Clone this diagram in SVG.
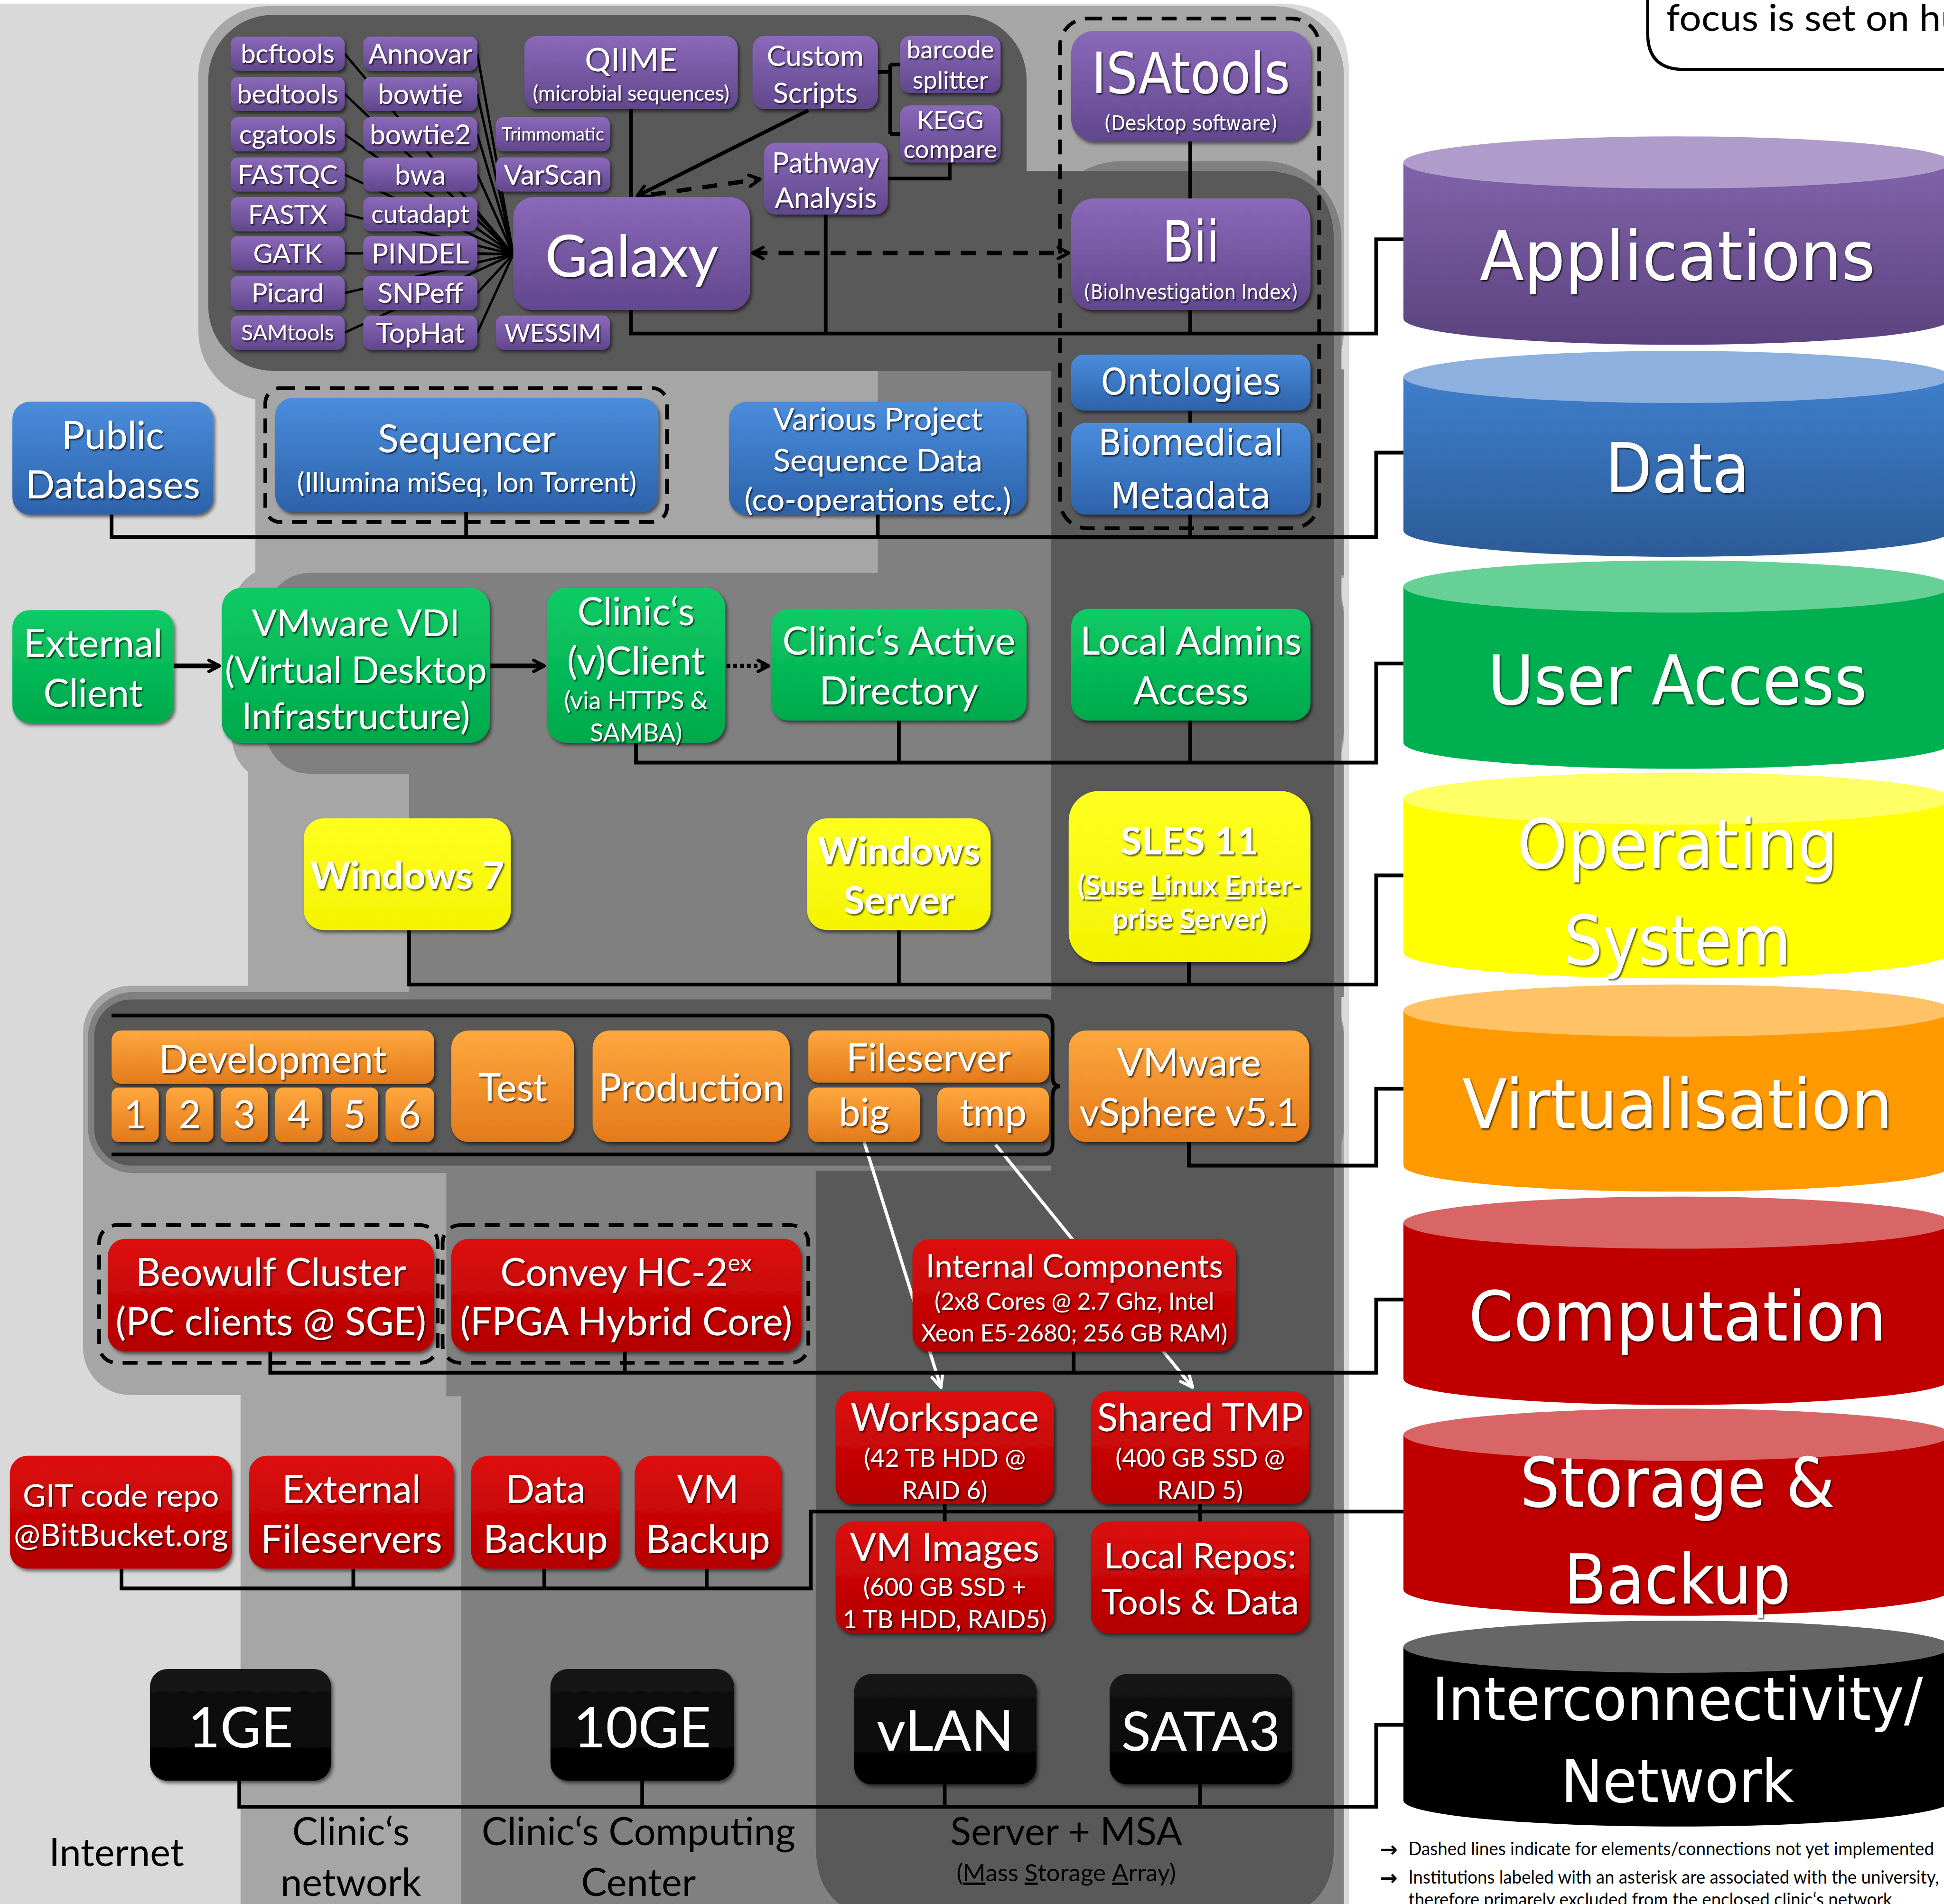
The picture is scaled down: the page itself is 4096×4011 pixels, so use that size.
<svg xmlns="http://www.w3.org/2000/svg" width="4096" height="4011" viewBox="0 0 4096 4011">
<defs>
<linearGradient id="gPu" x1="0" y1="0" x2="0" y2="1"><stop offset="0" stop-color="#8b69ba"/><stop offset="1" stop-color="#61478c"/></linearGradient>
<linearGradient id="gBl" x1="0" y1="0" x2="0" y2="1"><stop offset="0" stop-color="#4a8ddc"/><stop offset="1" stop-color="#2d62ab"/></linearGradient>
<linearGradient id="gGr" x1="0" y1="0" x2="0" y2="1"><stop offset="0" stop-color="#0ccb65"/><stop offset="1" stop-color="#00a94b"/></linearGradient>
<linearGradient id="gYe" x1="0" y1="0" x2="0" y2="1"><stop offset="0" stop-color="#ffff20"/><stop offset="1" stop-color="#f4f400"/></linearGradient>
<linearGradient id="gOr" x1="0" y1="0" x2="0" y2="1"><stop offset="0" stop-color="#ffa83e"/><stop offset="1" stop-color="#e37a1b"/></linearGradient>
<linearGradient id="gRe" x1="0" y1="0" x2="0" y2="1"><stop offset="0" stop-color="#de0d0d"/><stop offset="1" stop-color="#b30000"/></linearGradient>
<linearGradient id="gBk" x1="0" y1="0" x2="0" y2="1"><stop offset="0" stop-color="#161616"/><stop offset="1" stop-color="#000"/></linearGradient>
<linearGradient id="cPu" x1="0" y1="0" x2="0" y2="1"><stop offset="0" stop-color="#8163aa"/><stop offset="1" stop-color="#5b437f"/></linearGradient>
<linearGradient id="cBl" x1="0" y1="0" x2="0" y2="1"><stop offset="0" stop-color="#3f7fcc"/><stop offset="1" stop-color="#2c5b97"/></linearGradient>
<filter id="sh" x="-10%" y="-10%" width="125%" height="135%"><feDropShadow dx="1.5" dy="2" stdDeviation="1.5" flood-color="#000" flood-opacity="0.55"/></filter>
<filter id="ts" x="-5%" y="-10%" width="115%" height="130%"><feDropShadow dx="1" dy="1.2" stdDeviation="0.6" flood-color="#000" flood-opacity="0.65"/></filter>
<marker id="ch" viewBox="0 0 12 12" refX="10.5" refY="6" markerWidth="12" markerHeight="12" markerUnits="userSpaceOnUse" orient="auto-start-reverse"><path d="M2,1.5 L10.5,6 L2,10.5" fill="none" stroke="#000" stroke-width="2.6" stroke-linecap="round" stroke-linejoin="round"/></marker>
<marker id="wa" viewBox="0 0 12 12" refX="11" refY="6" markerWidth="12" markerHeight="12" markerUnits="userSpaceOnUse" orient="auto"><path d="M1,1.5 L11,6 L1,10.5" fill="none" stroke="#fff" stroke-width="2.4" stroke-linecap="round"/></marker>
</defs>
<style>
.pu{fill:url(#gPu);filter:url(#sh)}
.bl{fill:url(#gBl);filter:url(#sh)}
.gr{fill:url(#gGr);filter:url(#sh)}
.ye{fill:url(#gYe);filter:url(#sh)}
.or{fill:url(#gOr);filter:url(#sh)}
.re{fill:url(#gRe);filter:url(#sh)}
.bk{fill:url(#gBk);filter:url(#sh)}
.t{font-family:Lato,"Liberation Sans",sans-serif;fill:#fff;text-anchor:middle;filter:url(#ts)}
.b{font-weight:700}
.d{font-family:"DejaVu Sans",Verdana,sans-serif;font-stretch:condensed;fill:#fff;text-anchor:middle;filter:url(#ts)}
.k{font-family:Lato,"Liberation Sans",sans-serif;fill:#000;text-anchor:middle}
.bus{fill:none;stroke:#000;stroke-width:3}
.tl{fill:none;stroke:#000;stroke-width:1.9}
.dsh{fill:none;stroke:#000;stroke-width:3.5;stroke-dasharray:12 9}
.arr{fill:none;stroke:#000;stroke-width:3.8}
.dot{fill:none;stroke:#000;stroke-width:3.5;stroke-dasharray:3 2.5}
.wl{fill:none;stroke:#fff;stroke-width:2.6}
</style>
<rect width="4096" height="4011" fill="#fff"/>
<g transform="scale(2.61224)">
<g id="background">
<path fill="#d9d9d9" d="M0,3 H1033 Q1088,3 1088,58 V1536 H0 Z"/>
<g fill="#a6a6a6">
<rect x="160" y="5" width="924" height="318" rx="56"/>
<rect x="206" y="298" width="878" height="168"/>
<rect x="187" y="456" width="897" height="176" rx="38"/>
<rect x="200" y="620" width="884" height="182"/>
<rect x="67" y="795" width="1017" height="330" rx="38"/>
<rect x="194" y="1100" width="890" height="436"/>
</g>
<g fill="#808080">
<rect x="842" y="130" width="240" height="1420" rx="62"/>
<rect x="708" y="298" width="376" height="166"/>
<rect x="214" y="462" width="870" height="162" rx="36"/>
<rect x="330" y="614" width="754" height="190"/>
<rect x="71" y="800" width="1013" height="146" rx="36"/>
<rect x="360" y="940" width="724" height="186"/>
<rect x="372" y="1120" width="712" height="416"/>
</g>
<g fill="#595959">
<rect x="168" y="12" width="660" height="287" rx="52"/>
<rect x="780" y="138" width="250" height="161"/>
<path d="M848,138 H1018 Q1076,138 1076,196 V1488 Q1076,1546 1018,1546 H716 Q658,1546 658,1488 V944 H848 Z"/>
<rect x="76" y="806" width="800" height="134" rx="30"/>
</g>
</g>
<g id="connectors">
<path class="tl" d="M278,43.3L414,205M278,75.8L414,205M278,108.3L414,205M278,140.8L414,205M278,172.8L414,205M278,204.3L414,205M278,236.3L414,205M278,268.3L414,205M385,43.3L414,205M385,75.8L414,205M385,108.3L414,205M385,140.8L414,205M385,172.8L414,205M385,204.3L414,205M385,236.3L414,205M385,268.3L414,205"/>
<path class="bus" d="M509,250V269H1110V193H1132 M666,173V269 M960,250V269 M960,114V160 M509,88V159"/>
<path class="bus" d="M708,58H718 M718,52V108 M718,52H726 M718,108H726 M766,131V144H716"/>
<path class="bus" d="M652,89L514,158" marker-end="url(#ch)"/>
<path class="dsh" d="M525,157L613,144.5" marker-end="url(#ch)"/>
<path class="dsh" d="M607,204H862" marker-start="url(#ch)" marker-end="url(#ch)"/>
<path class="bus" d="M90,415V433H1110V365H1132 M376,413V433 M708,415V433 M960,415V433 M960,331V341"/>
<path class="bus" d="M513,599V615H1110V535H1132 M725,581V615 M960,581V615"/>
<path class="arr" d="M140,537H177" marker-end="url(#ch)"/>
<path class="arr" d="M395,537H439" marker-end="url(#ch)"/>
<path class="dot" d="M586,537H620" marker-end="url(#ch)"/>
<path class="bus" d="M330,750V794H1110V706H1132 M725,750V794 M959,776V794"/>
<path class="bus" d="M959,921V940H1110V878H1132"/>
<path class="wl" d="M697,921L759,1119" marker-end="url(#wa)"/>
<path class="wl" d="M803,923L962,1119" marker-end="url(#wa)"/>
<path class="bus" d="M218,1090V1107H1110V1048H1132 M504,1090V1107 M866,1090V1107"/>
<path class="bus" d="M98,1265V1281H654V1219H1132 M285,1265V1281 M439,1265V1281 M570,1265V1281 M762,1213V1227 M968,1213V1227"/>
<path class="bus" d="M193,1436V1457H1110V1391H1132 M518,1436V1457 M762,1439V1457 M968,1439V1457"/>
</g>
<g id="groups" fill="none" stroke="#000" stroke-width="3">
<g stroke-dasharray="12 8">
<rect x="855" y="15" width="209" height="411" rx="22"/>
<rect x="214" y="313" width="324" height="108" rx="12"/>
<rect x="80" y="988" width="273" height="111" rx="14"/>
<rect x="357" y="988" width="295" height="111" rx="14"/>
</g>
<path d="M90,819H841Q849,819 849,827V868Q849,876 855,876Q849,876 849,884V923Q849,931 841,931H90"/>
</g>
<g id="nodes">
<g id="n-bcftools"><rect class="pu" x="186" y="29.5" width="92" height="27.5" rx="6"/><text class="t" x="232" y="51" font-size="21.5">bcftools</text></g>
<g id="n-bedtools"><rect class="pu" x="186" y="62" width="92" height="27.5" rx="6"/><text class="t" x="232" y="83.5" font-size="21.5">bedtools</text></g>
<g id="n-cgatools"><rect class="pu" x="186" y="94.5" width="92" height="27.5" rx="6"/><text class="t" x="232" y="116" font-size="21.5">cgatools</text></g>
<g id="n-fastqc"><rect class="pu" x="186" y="127" width="92" height="27.5" rx="6"/><text class="t" x="232" y="148.5" font-size="21.5">FASTQC</text></g>
<g id="n-fastx"><rect class="pu" x="186" y="159" width="92" height="27.5" rx="6"/><text class="t" x="232" y="180.5" font-size="21.5">FASTX</text></g>
<g id="n-gatk"><rect class="pu" x="186" y="190.5" width="92" height="27.5" rx="6"/><text class="t" x="232" y="212" font-size="21.5">GATK</text></g>
<g id="n-picard"><rect class="pu" x="186" y="222.5" width="92" height="27.5" rx="6"/><text class="t" x="232" y="244" font-size="21.5">Picard</text></g>
<g id="n-samtools"><rect class="pu" x="186" y="254.5" width="92" height="27.5" rx="6"/><text class="t" x="232" y="274.5" font-size="17.5">SAMtools</text></g>
<g id="n-annovar"><rect class="pu" x="293" y="29.5" width="92" height="27.5" rx="6"/><text class="t" x="339" y="51.4" font-size="22.5">Annovar</text></g>
<g id="n-bowtie"><rect class="pu" x="293" y="62" width="92" height="27.5" rx="6"/><text class="t" x="339" y="83.9" font-size="22.5">bowtie</text></g>
<g id="n-bowtie2"><rect class="pu" x="293" y="94.5" width="92" height="27.5" rx="6"/><text class="t" x="339" y="116.4" font-size="22.5">bowtie2</text></g>
<g id="n-bwa"><rect class="pu" x="293" y="127" width="92" height="27.5" rx="6"/><text class="t" x="339" y="148.9" font-size="22.5">bwa</text></g>
<g id="n-cutadapt"><rect class="pu" x="293" y="159" width="92" height="27.5" rx="6"/><text class="t" x="339" y="180.1" font-size="20.5">cutadapt</text></g>
<g id="n-pindel"><rect class="pu" x="293" y="190.5" width="92" height="27.5" rx="6"/><text class="t" x="339" y="212.4" font-size="22.5">PINDEL</text></g>
<g id="n-snpeff"><rect class="pu" x="293" y="222.5" width="92" height="27.5" rx="6"/><text class="t" x="339" y="244.4" font-size="22.5">SNPeff</text></g>
<g id="n-tophat"><rect class="pu" x="293" y="254.5" width="92" height="27.5" rx="6"/><text class="t" x="339" y="276.4" font-size="22.5">TopHat</text></g>
<g id="n-trimmomatic"><rect class="pu" x="400" y="94.5" width="92" height="27.5" rx="6"/><text class="t" x="446" y="113.5" font-size="14.5">Trimmomatic</text></g>
<g id="n-varscan"><rect class="pu" x="400" y="127" width="92" height="27.5" rx="6"/><text class="t" x="446" y="148.9" font-size="22.5">VarScan</text></g>
<g id="n-wessim"><rect class="pu" x="400" y="254.5" width="92" height="27.5" rx="6"/><text class="t" x="446" y="275.5" font-size="20">WESSIM</text></g>
<g id="n-qiime"><rect class="pu" x="423" y="29" width="172" height="59" rx="10"/><text class="t" x="509" y="57.4" font-size="26">QIIME</text><text class="t" x="509" y="81" font-size="17">(microbial sequences)</text></g>
<g id="n-custom"><rect class="pu" x="607" y="29" width="101" height="59" rx="10"/><text class="t" x="657.5" y="53.3" font-size="23">Custom</text><text class="t" x="657.5" y="83" font-size="23">Scripts</text></g>
<g id="n-barcode"><rect class="pu" x="726" y="29" width="81" height="46" rx="8"/><text class="t" x="766.5" y="47.2" font-size="20">barcode</text><text class="t" x="766.5" y="71.5" font-size="20">splitter</text></g>
<g id="n-kegg"><rect class="pu" x="726" y="85" width="81" height="46" rx="8"/><text class="t" x="766.5" y="104.2" font-size="20">KEGG</text><text class="t" x="766.5" y="127.5" font-size="20">compare</text></g>
<g id="n-pathway"><rect class="pu" x="616" y="115" width="100" height="58" rx="10"/><text class="t" x="666" y="139.3" font-size="23">Pathway</text><text class="t" x="666" y="167.5" font-size="23">Analysis</text></g>
<g id="n-galaxy"><rect class="pu" x="414" y="159" width="191" height="91" rx="16"/><text class="t" x="509.5" y="223" font-size="47">Galaxy</text></g>
<g id="n-isatools"><rect class="pu" x="864" y="25" width="193" height="89" rx="18"/><text class="d" x="960.5" y="75" font-size="46" textLength="160" lengthAdjust="spacingAndGlyphs">ISAtools</text><text class="d" x="960.5" y="105" font-size="16" textLength="140" lengthAdjust="spacingAndGlyphs">(Desktop software)</text></g>
<g id="n-bii"><rect class="pu" x="864" y="160" width="193" height="90" rx="18"/><text class="d" x="960.5" y="211" font-size="46" textLength="46" lengthAdjust="spacingAndGlyphs">Bii</text><text class="d" x="960.5" y="241" font-size="16" textLength="173" lengthAdjust="spacingAndGlyphs">(BioInvestigation Index)</text></g>
<g id="n-ontologies"><rect class="bl" x="864" y="286" width="193" height="45" rx="10"/><text class="d" x="960.5" y="318" font-size="29" textLength="145" lengthAdjust="spacingAndGlyphs">Ontologies</text></g>
<g id="n-biomedical"><rect class="bl" x="864" y="341" width="193" height="74" rx="12"/><text class="d" x="960.5" y="367" font-size="29" textLength="149" lengthAdjust="spacingAndGlyphs">Biomedical</text><text class="d" x="960.5" y="410" font-size="29" textLength="129" lengthAdjust="spacingAndGlyphs">Metadata</text></g>
<g id="n-public"><rect class="bl" x="10" y="324" width="162" height="91" rx="14"/><text class="t" x="91" y="362" font-size="31">Public</text><text class="t" x="91" y="402" font-size="31">Databases</text></g>
<g id="n-sequencer"><rect class="bl" x="222" y="321" width="309" height="92" rx="14"/><text class="t" x="376.5" y="365" font-size="31">Sequencer</text><text class="t" x="376.5" y="397" font-size="22.5">(Illumina miSeq, Ion Torrent)</text></g>
<g id="n-various"><rect class="bl" x="588" y="324" width="240" height="91" rx="14"/><text class="t" x="708" y="347" font-size="25.5">Various Project</text><text class="t" x="708" y="380" font-size="25.5">Sequence Data</text><text class="t" x="708" y="412" font-size="25.5">(co-operations etc.)</text></g>
<g id="n-external-client"><rect class="gr" x="10" y="492" width="130" height="91" rx="14"/><text class="t" x="75" y="530" font-size="31">External</text><text class="t" x="75" y="570" font-size="31">Client</text></g>
<g id="n-vdi"><rect class="gr" x="179" y="474" width="216" height="125" rx="16"/><text class="t" x="287" y="513" font-size="29.5">VMware VDI</text><text class="t" x="287" y="551" font-size="29.5">(Virtual Desktop</text><text class="t" x="287" y="588" font-size="29.5">Infrastructure)</text></g>
<g id="n-vclient"><rect class="gr" x="441" y="474" width="144" height="125" rx="16"/><text class="t" x="513" y="504" font-size="31">Clinic‘s</text><text class="t" x="513" y="544" font-size="31">(v)Client</text><text class="t" x="513" y="572" font-size="20">(via HTTPS &amp;</text><text class="t" x="513" y="598" font-size="20">SAMBA)</text></g>
<g id="n-ad"><rect class="gr" x="622" y="491" width="206" height="90" rx="14"/><text class="t" x="725" y="528" font-size="31">Clinic‘s Active</text><text class="t" x="725" y="568" font-size="31">Directory</text></g>
<g id="n-admins"><rect class="gr" x="864" y="491" width="193" height="90" rx="14"/><text class="t" x="960.5" y="528" font-size="31">Local Admins</text><text class="t" x="960.5" y="568" font-size="31">Access</text></g>
<g id="n-win7"><rect class="ye" x="245" y="660" width="167" height="90" rx="16"/><text class="t b" x="328.5" y="717" font-size="31">Windows 7</text></g>
<g id="n-winserver"><rect class="ye" x="651" y="660" width="148" height="90" rx="16"/><text class="t b" x="725" y="697" font-size="31">Windows</text><text class="t b" x="725" y="737" font-size="31">Server</text></g>
<g id="n-sles"><rect class="ye" x="862" y="638" width="195" height="138" rx="24"/><text class="t b" x="959.5" y="689" font-size="31">SLES 11</text><text class="t b" x="959.5" y="722" font-size="22.5">(<tspan text-decoration="underline">S</tspan>use <tspan text-decoration="underline">L</tspan>inux <tspan text-decoration="underline">E</tspan>nter-</text><text class="t b" x="959.5" y="749" font-size="22.5">prise <tspan text-decoration="underline">S</tspan>erver)</text></g>
<g id="n-development"><rect class="or" x="90" y="831" width="260" height="43" rx="8"/><text class="t" x="220" y="865" font-size="31">Development</text></g>
<g id="n-dev1"><rect class="or" x="90" y="877" width="38" height="44" rx="6"/><text class="t" x="109" y="910" font-size="31">1</text></g>
<g id="n-dev2"><rect class="or" x="134" y="877" width="38" height="44" rx="6"/><text class="t" x="153" y="910" font-size="31">2</text></g>
<g id="n-dev3"><rect class="or" x="178" y="877" width="38" height="44" rx="6"/><text class="t" x="197" y="910" font-size="31">3</text></g>
<g id="n-dev4"><rect class="or" x="222" y="877" width="38" height="44" rx="6"/><text class="t" x="241" y="910" font-size="31">4</text></g>
<g id="n-dev5"><rect class="or" x="267" y="877" width="38" height="44" rx="6"/><text class="t" x="286" y="910" font-size="31">5</text></g>
<g id="n-dev6"><rect class="or" x="311" y="877" width="39" height="44" rx="6"/><text class="t" x="330.5" y="910" font-size="31">6</text></g>
<g id="n-test"><rect class="or" x="364" y="831" width="99" height="90" rx="14"/><text class="t" x="413.5" y="888" font-size="31">Test</text></g>
<g id="n-production"><rect class="or" x="478" y="831" width="159" height="90" rx="14"/><text class="t" x="557.5" y="888" font-size="31">Production</text></g>
<g id="n-fileserver"><rect class="or" x="652" y="831" width="194" height="42" rx="8"/><text class="t" x="749" y="864" font-size="31">Fileserver</text></g>
<g id="n-big"><rect class="or" x="652" y="877" width="90" height="44" rx="8"/><text class="t" x="697" y="908" font-size="31">big</text></g>
<g id="n-tmp"><rect class="or" x="756" y="877" width="90" height="44" rx="8"/><text class="t" x="801" y="908" font-size="31">tmp</text></g>
<g id="n-vsphere"><rect class="or" x="862" y="831" width="194" height="90" rx="14"/><text class="t" x="959" y="868" font-size="31">VMware</text><text class="t" x="959" y="908" font-size="31">vSphere v5.1</text></g>
<g id="n-beowulf"><rect class="re" x="87" y="999" width="263" height="91" rx="14"/><text class="t" x="218.5" y="1037" font-size="31">Beowulf Cluster</text><text class="t" x="218.5" y="1077" font-size="31">(PC clients @ SGE)</text></g>
<g id="n-convey"><rect class="re" x="364" y="999" width="282" height="91" rx="14"/><text class="t" x="505" y="1037" font-size="31">Convey HC-2<tspan dy="-12" font-size="19">ex</tspan></text><text class="t" x="505" y="1077" font-size="31">(FPGA Hybrid Core)</text></g>
<g id="n-internal"><rect class="re" x="736" y="999" width="261" height="91" rx="14"/><text class="t" x="866.5" y="1030" font-size="26">Internal Components</text><text class="t" x="866.5" y="1056" font-size="19">(2x8 Cores @ 2.7 Ghz, Intel</text><text class="t" x="866.5" y="1082" font-size="19">Xeon E5-2680; 256 GB RAM)</text></g>
<g id="n-workspace"><rect class="re" x="674" y="1122" width="176" height="91" rx="14"/><text class="t" x="762" y="1154" font-size="31">Workspace</text><text class="t" x="762" y="1183" font-size="20">(42 TB HDD @</text><text class="t" x="762" y="1209" font-size="20">RAID 6)</text></g>
<g id="n-sharedtmp"><rect class="re" x="880" y="1122" width="176" height="91" rx="14"/><text class="t" x="968" y="1154" font-size="31">Shared TMP</text><text class="t" x="968" y="1183" font-size="20">(400 GB SSD @</text><text class="t" x="968" y="1209" font-size="20">RAID 5)</text></g>
<g id="n-vmimages"><rect class="re" x="674" y="1227" width="176" height="90" rx="14"/><text class="t" x="762" y="1259" font-size="31">VM Images</text><text class="t" x="762" y="1287" font-size="20">(600 GB SSD +</text><text class="t" x="762" y="1313" font-size="20">1 TB HDD, RAID5)</text></g>
<g id="n-localrepos"><rect class="re" x="880" y="1227" width="176" height="90" rx="14"/><text class="t" x="968" y="1265" font-size="28.5">Local Repos:</text><text class="t" x="968" y="1302" font-size="28.5">Tools &amp; Data</text></g>
<g id="n-git"><rect class="re" x="8" y="1174" width="179" height="91" rx="14"/><text class="t" x="97.5" y="1215" font-size="25.5">GIT code repo</text><text class="t" x="97.5" y="1247" font-size="25.5">@BitBucket.org</text></g>
<g id="n-extfs"><rect class="re" x="201" y="1174" width="165" height="91" rx="14"/><text class="t" x="283.5" y="1212" font-size="31">External</text><text class="t" x="283.5" y="1252" font-size="31">Fileservers</text></g>
<g id="n-databackup"><rect class="re" x="380" y="1174" width="120" height="91" rx="14"/><text class="t" x="440" y="1212" font-size="31">Data</text><text class="t" x="440" y="1252" font-size="31">Backup</text></g>
<g id="n-vmbackup"><rect class="re" x="512" y="1174" width="118" height="91" rx="14"/><text class="t" x="571" y="1212" font-size="31">VM</text><text class="t" x="571" y="1252" font-size="31">Backup</text></g>
<g id="n-1ge"><rect class="bk" x="121" y="1346" width="146" height="90" rx="14"/><text class="t" x="194" y="1409" font-size="45">1GE</text></g>
<g id="n-10ge"><rect class="bk" x="444" y="1346" width="148" height="90" rx="14"/><text class="t" x="518" y="1409" font-size="45">10GE</text></g>
<g id="n-vlan"><rect class="bk" x="689" y="1350" width="147" height="89" rx="14"/><text class="t" x="762.5" y="1412" font-size="45">vLAN</text></g>
<g id="n-sata3"><rect class="bk" x="895" y="1350" width="147" height="89" rx="14"/><text class="t" x="968.5" y="1412" font-size="44">SATA3</text></g>
</g>
<g id="layers">
<g id="layer-applications"><path fill="url(#cPu)" d="M1132,131V257A221,21 0 0 0 1574,257V131Z"/><ellipse cx="1353" cy="131" rx="221" ry="21" fill="#b09ccb"/><text class="d" x="1353" y="226" font-size="55" textLength="319" lengthAdjust="spacingAndGlyphs">Applications</text></g>
<g id="layer-data"><path fill="url(#cBl)" d="M1132,304V428A221,21 0 0 0 1574,428V304Z"/><ellipse cx="1353" cy="304" rx="221" ry="21" fill="#8db0de"/><text class="d" x="1353" y="397" font-size="55" textLength="116" lengthAdjust="spacingAndGlyphs">Data</text></g>
<g id="layer-user-access"><path fill="#00b050" d="M1132,473V599A221,21 0 0 0 1574,599V473Z"/><ellipse cx="1353" cy="473" rx="221" ry="21" fill="#66d096"/><text class="d" x="1353" y="568" font-size="55" textLength="306" lengthAdjust="spacingAndGlyphs">User Access</text></g>
<g id="layer-os"><path fill="#ffff00" d="M1132,644V768A221,21 0 0 0 1574,768V644Z"/><ellipse cx="1353" cy="644" rx="221" ry="21" fill="#ffff66"/><text class="d" x="1353" y="700" font-size="55" textLength="259" lengthAdjust="spacingAndGlyphs">Operating</text><text class="d" x="1353" y="778" font-size="55" textLength="183" lengthAdjust="spacingAndGlyphs">System</text></g>
<g id="layer-virtualisation"><path fill="#ff9900" d="M1132,815V940A221,21 0 0 0 1574,940V815Z"/><ellipse cx="1353" cy="815" rx="221" ry="21" fill="#ffc266"/><text class="d" x="1353" y="910" font-size="55" textLength="347" lengthAdjust="spacingAndGlyphs">Virtualisation</text></g>
<g id="layer-computation"><path fill="#c00000" d="M1132,986V1112A221,21 0 0 0 1574,1112V986Z"/><ellipse cx="1353" cy="986" rx="221" ry="21" fill="#d96666"/><text class="d" x="1353" y="1081" font-size="55" textLength="337" lengthAdjust="spacingAndGlyphs">Computation</text></g>
<g id="layer-storage"><path fill="#c00000" d="M1132,1157V1282A221,21 0 0 0 1574,1282V1157Z"/><ellipse cx="1353" cy="1157" rx="221" ry="21" fill="#d96666"/><text class="d" x="1353" y="1215" font-size="55" textLength="254" lengthAdjust="spacingAndGlyphs">Storage &amp;</text><text class="d" x="1353" y="1293" font-size="55" textLength="183" lengthAdjust="spacingAndGlyphs">Backup</text></g>
<g id="layer-network"><path fill="#000" d="M1132,1328V1452A221,21 0 0 0 1574,1452V1328Z"/><ellipse cx="1353" cy="1328" rx="221" ry="21" fill="#666"/><text class="d" x="1353" y="1387" font-size="48" textLength="396" lengthAdjust="spacingAndGlyphs">Interconnectivity/</text><text class="d" x="1353" y="1453" font-size="48" textLength="188" lengthAdjust="spacingAndGlyphs">Network</text></g>
</g>
<g id="labels">
<text class="k" x="94" y="1505" font-size="31">Internet</text>
<text class="k" x="283" y="1488" font-size="31">Clinic‘s</text>
<text class="k" x="283" y="1529" font-size="31">network</text>
<text class="k" x="515" y="1488" font-size="31">Clinic‘s Computing</text>
<text class="k" x="515" y="1529" font-size="31">Center</text>
<text class="k" x="860" y="1488" font-size="31">Server + MSA</text>
<text class="k" x="860" y="1517" font-size="19.5">(<tspan text-decoration="underline">M</tspan>ass <tspan text-decoration="underline">S</tspan>torage <tspan text-decoration="underline">A</tspan>rray)</text>
<path d="M1329,-5V27Q1329,56 1358,56H1575" fill="none" stroke="#000" stroke-width="2.5"/>
<text x="1344" y="25" font-family="Lato,'Liberation Sans',sans-serif" font-size="30" textLength="239" lengthAdjust="spacingAndGlyphs">focus is set on hu</text>
<g font-family="Lato,'Liberation Sans',sans-serif" font-size="15" fill="#000">
<text x="1113" y="1497" font-family="'DejaVu Sans',sans-serif" font-size="17" font-weight="700">→</text>
<text x="1136" y="1496" textLength="424" lengthAdjust="spacingAndGlyphs">Dashed lines indicate for elements/connections not yet implemented</text>
<text x="1113" y="1520" font-family="'DejaVu Sans',sans-serif" font-size="17" font-weight="700">→</text>
<text x="1136" y="1519" textLength="428" lengthAdjust="spacingAndGlyphs">Institutions labeled with an asterisk are associated with the university,</text>
<text x="1136" y="1537" textLength="390" lengthAdjust="spacingAndGlyphs">therefore primarely excluded from the enclosed clinic‘s network</text>
</g>
</g>
</g>
</svg>
